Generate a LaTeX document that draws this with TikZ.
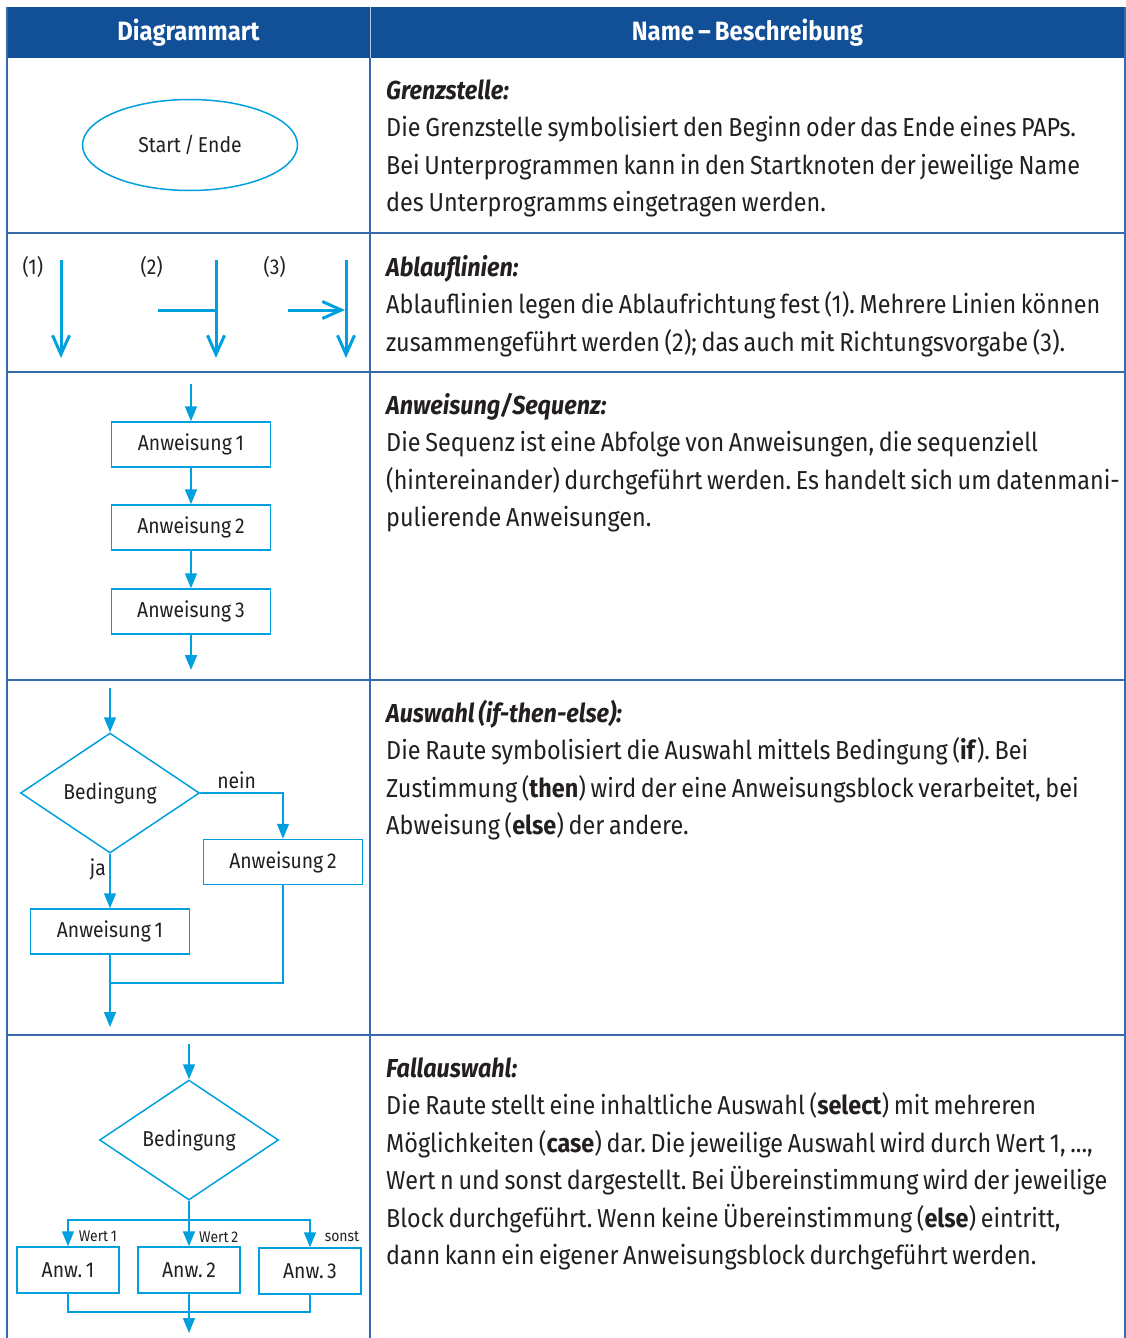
\documentclass[tikz,border=0pt]{standalone}
\usepackage{fontspec}
\setmainfont[FakeStretch=0.9, WordSpace=0.75]{Fira Sans}
\usetikzlibrary{positioning,shapes.geometric,arrows.meta}
\definecolor{headblue}{RGB}{17,79,151}
\definecolor{gridblue}{RGB}{55,105,175}
\definecolor{papcyan}{RGB}{0,160,222}
\definecolor{txtgray}{RGB}{35,31,32}
\newcommand{\bodyfont}{\fontsize{26}{37.5}\selectfont}
\newcommand{\diagfont}{\fontsize{21.5}{26}\selectfont}
\newcommand{\smallfont}{\fontsize{15.5}{19}\selectfont}
\newcommand{\rowtitle}[1]{\textbf{\textit{#1}}}
\frenchspacing
\tikzset{
	cellline/.style={draw=gridblue, line width=1.5pt},
	headtext/.style={text=white, font=\fontsize{26.5}{30}\selectfont\bfseries, inner sep=0pt},
	desctext/.style={anchor=north west, align=left, inner sep=0pt, text=txtgray, font=\bodyfont},
	flowline/.style={draw=papcyan, line width=1.5pt},
	flowarrow/.style={flowline, -{Triangle[length=15pt,width=12pt]}},
	barbarrow/.style={draw=papcyan, line width=3pt, -{Straight Barb[length=19pt,width=17pt]}},
	barbline/.style={draw=papcyan, line width=3pt},
	labeltext/.style={text=txtgray, font=\diagfont},
	casetext/.style={text=txtgray, font=\smallfont, anchor=west, inner sep=0pt},
	boxnode/.style={rectangle, draw=papcyan, line width=1.5pt, text=txtgray, font=\diagfont, minimum width=159pt, minimum height=45pt, inner sep=0pt},
	smallbox/.style={boxnode, minimum width=102pt, minimum height=46pt},
	decnode/.style={diamond, draw=papcyan, line width=1.5pt, text=txtgray, font=\diagfont, minimum width=179pt, minimum height=120pt, inner sep=0pt},
	endnode/.style={ellipse, draw=papcyan, line width=1.5pt, text=txtgray, font=\diagfont, minimum width=215pt, minimum height=91pt}
}

\begin{document}
\begin{tikzpicture}[x=1pt, y=-1pt]
	\useasboundingbox (0,0) rectangle (1126,1338);
	% table
	\fill[headblue] (7,7) rectangle (1125,58);
	\draw[cellline] (7,7) -- (7,1338);
	\draw[cellline] (1125,7) -- (1125,1338);
	\draw[cellline] (370,58) -- (370,1338);
	\draw[draw=white!70!headblue, line width=1pt] (370,7) -- (370,58);
	\foreach \y in {233,372,680,1035}
		\draw[cellline] (7,\y) -- (1125,\y);
	\node[headtext] (headleft) at (188.5,33) {Diagrammart};
	\node[headtext] (headright) at (747.5,33) {Name -- Beschreibung};

	% Grenzstelle
	\node[endnode] (startend) at (190,145) {Start\,/\,Ende};
	\node[desctext] (grenz) at (386,73) {\strut\rowtitle{Grenzstelle:}\\
		Die Grenzstelle symbolisiert den Beginn oder das Ende eines PAPs.\\
		Bei Unterprogrammen kann in den Startknoten der jeweilige Name\\
		des Unterprogramms eingetragen werden.};

	% Ablauflinien
	\node[labeltext, anchor=west] (lab1) at (19,267) {(1)};
	\node[labeltext, anchor=west] (lab2) at (137,267) {(2)};
	\node[labeltext, anchor=west] (lab3) at (260,267) {(3)};
	\coordinate (l1top) at (61,260);
	\coordinate (l1end) at (61,358);
	\coordinate (l2top) at (216,260);
	\coordinate (l2end) at (216,358);
	\coordinate (l2side) at (158,310);
	\coordinate (l2join) at (216,310);
	\coordinate (l3top) at (346,260);
	\coordinate (l3end) at (346,358);
	\coordinate (l3side) at (288,310);
	\coordinate (l3join) at (345,310);
	\draw[barbarrow] (l1top) -- (l1end);
	\draw[barbarrow] (l2top) -- (l2end);
	\draw[barbline] (l2side) -- (l2join);
	\draw[barbarrow] (l3top) -- (l3end);
	\draw[barbarrow] (l3side) -- (l3join);
	\node[desctext] (ablauf) at (386,250) {\strut\rowtitle{Ablauflinien:}\\
		Ablauflinien legen die Ablaufrichtung fest (1). Mehrere Linien können\\
		zusammengeführt werden (2); das auch mit Richtungsvorgabe (3).};

	% Sequenz
	\coordinate (seqin) at (191,384);
	\node[boxnode] (anw1) at (191,444.5) {Anweisung 1};
	\node[boxnode] (anw2) at (191,527.5) {Anweisung 2};
	\node[boxnode] (anw3) at (191,611.5) {Anweisung 3};
	\coordinate (seqout) at (191,670);
	\draw[flowarrow] (seqin) -- (anw1);
	\draw[flowarrow] (anw1) -- (anw2);
	\draw[flowarrow] (anw2) -- (anw3);
	\draw[flowarrow] (anw3) -- (seqout);
	\node[desctext] (sequenz) at (386,388) {\strut\rowtitle{Anweisung/Sequenz:}\\
		Die Sequenz ist eine Abfolge von Anweisungen, die sequenziell\\
		(hintereinander) durchgeführt werden. Es handelt sich um datenmani-\\
		pulierende Anweisungen.};

	% Auswahl
	\coordinate (ifin) at (110,688);
	\node[decnode] (cond1) at (110,793) {Bedingung};
	\node[boxnode] (then1) at (110,931.5) {Anweisung 1};
	\node[boxnode] (else2) at (283,862) {Anweisung 2};
	\coordinate (ifjoin) at (110,983);
	\coordinate (ifout) at (110,1027);
	\draw[flowarrow] (ifin) -- (cond1);
	\draw[flowarrow] (cond1.east) -| node[labeltext, pos=0.22, above] {nein} (else2);
	\draw[flowarrow] (cond1.south) -- node[labeltext, pos=0.28, left] {ja} (then1);
	\draw[flowline] (else2) |- (ifjoin);
	\draw[flowarrow] (then1) -- (ifout);
	\node[desctext] (auswahl) at (386,696) {\strut\rowtitle{Auswahl (if-then-else):}\\
		Die Raute symbolisiert die Auswahl mittels Bedingung (\textbf{if}). Bei\\
		Zustimmung (\textbf{then}) wird der eine Anweisungsblock verarbeitet, bei\\
		Abweisung (\textbf{else}) der andere.};

	% Fallauswahl
	\coordinate (casein) at (189,1044);
	\node[decnode] (cond2) at (189,1140) {Bedingung};
	\coordinate (casefork) at (189,1220);
	\node[smallbox] (case1) at (68,1270) {Anw.\,1};
	\node[smallbox] (case2) at (189,1270) {Anw.\,2};
	\node[smallbox] (case3) at (310,1271) {Anw.\,3};
	\coordinate (casejoin) at (189,1312);
	\coordinate (caseout) at (189,1333);
	\draw[flowarrow] (casein) -- (cond2);
	\draw[flowline] (cond2) -- (casefork);
	\draw[flowarrow] (casefork) -| node[casetext, pos=0.81, xshift=10pt] {Wert 1} (case1);
	\draw[flowarrow] (casefork) -- (case2);
	\node[casetext] (wert2) at (199,1237) {Wert 2};
	\draw[flowarrow] (casefork) -| node[casetext, pos=0.81, xshift=14pt] {sonst} (case3);
	\draw[flowline] (case1) |- (casejoin);
	\draw[flowline] (case3) |- (casejoin);
	\draw[flowarrow] (case2) -- (caseout);
	\node[desctext] (fall) at (386,1051) {\strut\rowtitle{Fallauswahl:}\\
		Die Raute stellt eine inhaltliche Auswahl (\textbf{select}) mit mehreren\\
		Möglichkeiten (\textbf{case}) dar. Die jeweilige Auswahl wird durch Wert 1, ...,\\
		Wert n und sonst dargestellt. Bei Übereinstimmung wird der jeweilige\\
		Block durchgeführt. Wenn keine Übereinstimmung (\textbf{else}) eintritt,\\
		dann kann ein eigener Anweisungsblock durchgeführt werden.};
\end{tikzpicture}
\end{document}
